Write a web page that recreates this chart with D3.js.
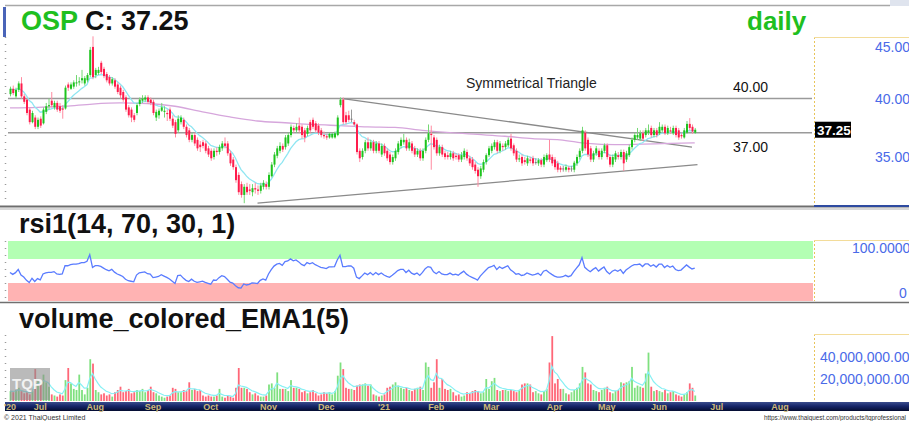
<!DOCTYPE html>
<html><head><meta charset="utf-8">
<script src="https://cdnjs.cloudflare.com/ajax/libs/d3/7.8.5/d3.min.js"></script>
<style>body{margin:0;background:#fff;overflow:hidden}svg{display:block;font-family:"Liberation Sans",Arial,sans-serif}</style>
</head><body><svg id="c" width="909" height="421"></svg>
<script>
// ---------- DATA (daily OSP, mid-Jun 2020 .. mid-Jun 2021) ----------
const opens = [
40.4,40.9,40.2,40.8,41.4,40.2,39.9,39.0,37.9,38.3,
37.5,38.2,37.8,38.8,39.3,39.8,39.2,39.6,39.3,39.1,
39.1,41.3,40.9,41.1,41.4,41.5,41.7,41.4,41.7,42.2,
45.0,42.2,42.4,43.4,42.8,42.3,42.0,41.4,41.7,41.3,
41.0,40.6,40.1,39.2,39.0,38.5,38.7,39.5,39.8,39.9,
40.1,39.9,39.7,38.3,38.5,38.9,38.8,38.7,39.0,38.2,
37.9,37.2,37.9,38.1,37.5,37.2,36.4,36.8,36.4,36.0,
36.2,36.1,35.7,35.5,35.0,35.5,35.4,35.7,36.1,36.1,
35.3,34.8,34.2,33.6,32.9,32.1,32.7,32.5,32.3,32.6,
32.5,32.4,32.7,32.9,32.7,33.5,34.4,35.1,35.5,35.9,
35.8,36.1,36.8,37.4,37.2,37.6,37.5,37.2,36.9,37.9,
38.1,37.8,37.6,37.2,36.8,36.7,36.6,36.6,36.6,36.8,
39.4,39.9,38.5,38.5,38.2,37.9,37.7,35.5,35.0,35.5,
36.2,35.7,36.2,35.5,36.1,35.2,35.9,35.5,35.2,34.6,
34.9,35.4,35.9,36.2,36.4,35.7,36.1,35.7,35.2,35.5,
34.9,35.5,36.4,36.9,36.6,36.4,35.3,35.8,35.3,35.15,
35.0,35.3,35.1,35.15,34.8,35.0,35.4,34.9,34.8,34.4,
34.0,33.5,34.0,34.6,35.15,35.5,35.8,36.2,35.5,35.9,
35.8,35.95,36.5,35.95,35.5,34.8,35.0,34.75,34.5,34.8,
34.9,34.6,34.5,34.75,34.4,34.75,35.2,35.0,34.8,34.5,
34.15,34.1,34.0,34.15,34.05,34.0,34.5,35.0,35.5,37.0,
36.4,35.7,34.8,35.3,35.5,35.0,35.5,35.95,35.0,34.4,
34.8,35.15,35.0,35.4,34.8,35.15,35.8,36.4,36.6,36.5,
36.95,36.8,37.0,37.4,36.8,37.2,36.95,37.2,37.5,36.95,
37.2,36.95,37.4,37.2,36.8,36.6,37.0,37.75,37.5,37.0];
const highs = [
41.1,41.2,41.0,41.6,42.0,40.4,40.0,39.2,38.9,38.5,
38.3,38.4,39.2,39.6,40.0,40.6,39.8,39.8,39.6,39.4,
41.2,41.5,41.5,41.7,42.2,42.0,42.7,42.1,42.4,45.0,
46.1,42.9,43.0,43.6,43.0,42.5,42.2,42.0,41.9,41.5,
41.2,40.8,40.3,39.4,39.2,38.7,39.6,40.1,40.3,40.3,
40.3,40.1,39.9,39.0,39.1,39.6,39.3,39.0,39.2,38.5,
38.1,38.5,38.5,38.3,37.7,37.4,37.0,37.0,36.6,36.3,
36.4,36.3,35.9,35.7,35.7,35.8,36.0,36.3,36.6,36.3,
35.5,35.0,34.4,33.8,33.1,32.9,33.0,32.9,32.9,33.0,
32.8,33.0,33.2,33.1,33.8,34.6,35.4,35.9,36.2,36.1,
36.8,37.0,37.7,37.6,37.8,38.3,37.7,37.4,37.6,38.1,
38.3,38.0,37.8,37.4,37.1,36.9,37.0,37.0,37.1,38.5,
40.1,40.1,38.8,38.9,39.0,38.1,37.8,35.7,35.7,36.4,
36.6,36.4,36.4,36.3,36.3,36.1,36.1,35.7,35.4,35.2,
35.7,36.3,36.6,36.9,36.6,36.5,36.3,35.9,35.7,35.7,
35.7,36.6,37.7,37.6,36.8,36.6,36.0,36.0,35.5,35.4,
35.5,35.5,35.3,35.3,35.4,35.7,35.6,35.1,35.0,34.6,
34.2,34.3,34.8,35.3,35.9,36.1,36.4,36.4,36.3,36.1,
36.3,36.6,36.9,36.1,35.7,35.2,35.2,35.0,35.1,35.0,
35.1,34.9,34.9,34.9,35.2,35.3,36.4,35.2,35.0,34.7,
34.3,34.3,34.4,34.3,34.3,34.7,35.2,35.7,37.5,37.2,
36.6,35.9,35.5,35.9,35.7,35.7,36.1,36.1,35.2,35.2,
35.5,35.4,35.6,35.6,35.5,36.0,36.6,37.0,37.4,37.2,
37.2,37.4,37.7,37.6,37.4,37.4,37.9,37.7,37.7,37.6,
37.5,37.6,37.6,37.4,37.0,37.4,38.0,38.25,37.7,37.4];
const lows = [
40.2,40.3,40.0,40.6,40.0,39.5,38.5,37.7,37.8,37.3,
37.3,37.4,37.7,38.6,39.0,39.2,39.0,38.8,38.7,38.2,
39.0,40.7,40.8,40.9,41.1,41.2,41.4,41.2,41.5,42.0,
41.8,41.9,42.2,42.3,41.9,41.5,41.2,41.2,40.9,40.4,
40.0,39.7,38.8,38.3,37.9,37.9,38.5,39.3,39.6,39.7,
39.5,39.4,38.5,38.0,38.2,38.8,38.3,38.0,38.0,37.4,
36.6,37.0,37.7,37.3,36.6,36.2,36.2,35.9,35.5,35.4,
35.7,35.3,35.0,34.7,34.8,35.1,35.2,35.5,35.7,35.1,
34.3,34.0,33.0,32.1,31.9,31.5,32.1,32.1,32.0,32.2,
32.1,32.2,32.5,32.5,32.5,33.4,34.2,34.9,35.3,35.4,
35.6,35.9,36.6,37.0,37.0,37.0,36.5,36.2,36.7,37.0,
37.3,37.0,36.8,36.6,36.5,36.4,36.5,36.5,36.5,36.7,
39.2,37.7,37.7,37.9,37.9,37.5,35.2,34.6,34.8,35.3,
35.5,35.5,35.3,35.3,35.3,35.0,35.1,34.7,34.4,34.4,
34.7,35.2,35.7,36.0,35.5,35.5,35.3,35.0,35.0,34.7,
34.7,35.3,36.2,34.0,35.6,35.1,35.1,35.0,34.8,34.8,
34.8,34.7,34.8,34.6,34.6,34.8,34.7,34.3,34.0,33.7,
32.7,33.3,33.8,34.4,35.0,35.3,35.6,35.3,35.3,35.5,
35.6,35.8,35.5,35.1,34.6,34.6,34.3,34.4,34.3,34.5,
34.3,34.4,34.3,34.2,34.2,34.6,34.6,34.3,34.0,33.8,
33.8,33.85,33.85,33.8,33.85,33.8,34.3,34.8,35.3,35.5,
35.0,34.6,34.6,35.1,34.8,34.8,35.3,34.8,34.2,34.2,
34.6,34.8,34.8,33.9,34.6,35.0,35.6,36.2,36.4,36.3,
36.3,36.6,36.8,36.6,36.6,36.6,36.8,37.0,36.8,36.8,
36.9,36.8,36.6,36.4,36.5,36.5,36.9,37.2,36.9,36.9];
const closes = [
40.9,40.5,40.8,41.4,40.2,39.7,38.7,37.9,38.7,37.5,
38.1,37.6,39.0,39.3,39.4,39.4,39.6,39.0,38.9,39.0,
41.0,41.0,41.3,41.5,41.5,41.6,41.9,41.9,42.2,44.7,
42.0,42.7,42.7,42.5,42.1,41.7,41.4,41.8,41.1,40.6,
40.3,39.9,39.0,38.5,38.3,38.1,39.4,39.9,40.0,40.1,
39.7,39.6,38.7,38.8,38.9,39.2,38.9,38.6,38.2,37.6,
36.9,38.2,38.3,37.5,36.8,36.4,36.8,36.1,35.7,35.8,
35.9,35.5,35.2,34.9,35.5,35.4,35.8,36.1,35.9,35.3,
34.5,34.2,33.2,32.3,32.1,32.7,32.3,32.4,32.6,32.5,
32.4,32.8,33.0,32.7,33.6,34.4,35.2,35.7,35.9,35.6,
36.6,36.8,37.5,37.2,37.5,37.2,36.8,36.6,37.4,37.2,
37.5,37.2,37.0,36.8,36.7,36.6,36.9,36.9,36.95,38.3,
39.9,37.9,37.9,38.1,38.15,37.7,35.4,34.9,35.5,36.2,
35.7,36.2,35.5,36.1,35.5,35.9,35.3,34.9,34.6,35.0,
35.5,36.1,36.4,36.4,35.7,36.2,35.5,35.2,35.5,34.9,
35.5,36.4,36.95,36.8,35.8,35.3,35.8,35.2,35.0,35.0,
35.3,34.9,35.0,34.8,35.15,35.5,34.9,34.5,34.2,33.9,
33.5,34.1,34.6,35.15,35.7,35.9,36.2,35.5,36.1,35.8,
36.1,36.4,35.7,35.3,34.8,34.9,34.5,34.6,34.9,34.7,
34.5,34.6,34.75,34.4,35.0,35.15,34.8,34.5,34.2,34.0,
34.0,34.05,34.2,34.0,34.1,34.55,35.0,35.5,37.2,35.7,
35.2,34.8,35.3,35.7,35.0,35.5,35.95,35.0,34.4,35.0,
35.3,35.0,35.4,34.5,35.3,35.8,36.4,36.8,36.8,36.95,
36.5,37.2,37.2,36.8,37.2,36.8,37.5,37.5,36.95,37.4,
37.1,37.4,36.8,36.6,36.7,37.2,37.75,37.4,37.1,37.25];
// volume, millions of shares
const volumes = [
9,8,10,12,9,7,8,6,9,29, 18,15,24,17,13,6,5,4,6,5,
19,30,16,11,10,24,10,6,12,38, 34,10,8,6,7,5,6,4,8,10,
13,8,9,11,7,8,10,9,11,8, 10,13,8,7,5,4,3,4,5,12,
11,8,8,10,9,17,10,11,9,10, 5,4,5,4,4,5,11,4,3,5,
4,3,12,30,12,12,11,8,6,7, 5,4,4,5,15,16,12,26,11,11,
11,9,19,12,12,11,8,9,7,8, 10,7,5,6,8,7,8,6,9,23,
35,29,12,11,11,10,14,15,15,16, 14,15,6,5,4,5,6,12,13,15,
17,14,12,11,12,10,9,11,12,13, 10,35,31,12,17,38,12,20,11,10,
11,8,5,6,4,5,8,7,9,10, 9,7,8,20,11,18,21,10,9,10,
10,9,10,9,8,10,15,16,16,15, 8,9,7,6,9,11,35,59,16,20,
11,11,7,6,8,10,12,16,31,26, 16,15,10,9,8,10,12,13,8,7,
9,10,17,16,17,18,31,12,14,13, 12,25,44,13,9,10,9,8,10,7,
8,9,6,5,4,6,8,16,12,5];
// slow moving average (purple), sampled at bar index
const slowMaIdx = [0,10,20,30,40,50,60,70,80,90,100,110,120,130,140,150,160,170,180,190,200,210,220,230,240,249];
const slowMaVal = [39.15,39.2,39.3,39.5,39.6,39.55,39.3,38.8,38.35,38.0,37.85,37.7,37.6,37.5,37.45,37.2,37.0,36.85,36.7,36.5,36.4,36.1,36.0,36.05,36.1,36.15];
// trend lines: [barIndex, price]
const upperTrend = [[121,40.0],[248,35.8]];
const lowerTrend = [[90,31.5],[250,34.4]];
const hLevels = [40.0, 37.0];
const hLevelLabels = ["40.00","37.00"];
// x-axis month labels and their first bar index
const monthLabels = ["'20","Jul","Aug","Sep","Oct","Nov","Dec","'21","Feb","Mar","Apr","May","Jun","Jul","Aug"];
const monthIdx    = [0,11,31,52,73,94,115,136,155,175,198,217,236,257,280];
const priceTicks = [45,40,35];
const volTicks = [40,20];
const rsiSeed = {gain:0.20, loss:0.22};
const lastClose = 37.25;

// ---------- SCALES ----------
const svg = d3.select("#c");
const N = closes.length;
const x = d3.scaleLinear().domain([0,280]).range([10,780]);
const yP = d3.scaleLog().domain([31.37,46.03]).range([205,37]);
const yR = d3.scaleLinear().domain([0,100]).range([301,241]);
const yV = d3.scaleLinear().domain([0,60]).range([401,335]);

const defs = svg.append("defs");
function clip(id,x0,y0,w,h){defs.append("clipPath").attr("id",id).append("rect").attr("x",x0).attr("y",y0).attr("width",w).attr("height",h);}
clip("cP",6,6,807,200); clip("cR",6,240,807,62); clip("cV",6,304,807,97);
const grad = defs.append("linearGradient").attr("id","nav").attr("x1",0).attr("y1",0).attr("x2",0).attr("y2",1);
grad.append("stop").attr("offset","0%").attr("stop-color","#3a4c8c");
grad.append("stop").attr("offset","45%").attr("stop-color","#16266a");
grad.append("stop").attr("offset","100%").attr("stop-color","#040c30");

// ---------- FRAME ----------
svg.append("rect").attr("x",890).attr("y",0).attr("width",19).attr("height",6).attr("fill","#dfe4ee");
svg.append("line").attr("x1",5).attr("x2",890).attr("y1",5.5).attr("y2",5.5).attr("stroke","#a8a8a8").attr("stroke-width",1.5);
svg.append("rect").attr("x",3).attr("y",7).attr("width",3).attr("height",30).attr("fill","#4a64b8");
[[37,205],[241,300],[335,400]].forEach(([a,b])=>{
  svg.append("line").attr("x1",5.5).attr("x2",5.5).attr("y1",a).attr("y2",b).attr("stroke","#9a9a9a").attr("stroke-width",1.5).attr("stroke-dasharray","1,6");
});
svg.append("line").attr("x1",0).attr("x2",909).attr("y1",206.5).attr("y2",206.5).attr("stroke","#6e6e6e").attr("stroke-width",2);
svg.append("line").attr("x1",814).attr("x2",909).attr("y1",206).attr("y2",206).attr("stroke","#2e4aa0").attr("stroke-width",2);
svg.append("line").attr("x1",0).attr("x2",909).attr("y1",209).attr("y2",209).attr("stroke","#b0b0b0").attr("stroke-width",1);
svg.append("line").attr("x1",0).attr("x2",909).attr("y1",302.5).attr("y2",302.5).attr("stroke","#707070").attr("stroke-width",1.5);

// right axis boxes
function axisBox(y0,y1){
  svg.append("line").attr("x1",814.5).attr("x2",814.5).attr("y1",y0).attr("y2",y1).attr("stroke","#e8c45a").attr("stroke-dasharray","2,2");
  svg.append("line").attr("x1",814).attr("x2",909).attr("y1",y0+0.5).attr("y2",y0+0.5).attr("stroke","#f3dc9a");
}
axisBox(37,205); axisBox(240,301); axisBox(334,401);

// ---------- TITLES ----------
const t1 = svg.append("text").attr("x",21).attr("y",30).attr("font-size",27).attr("font-weight","bold");
t1.append("tspan").attr("fill","#1fbf1f").text("OSP");
t1.append("tspan").attr("fill","#111").text(" C: "+lastClose.toFixed(2));
svg.append("text").attr("x",747).attr("y",29.5).attr("font-size",26).attr("font-weight","bold").attr("fill","#1fbf1f").text("daily");
svg.append("text").attr("x",19).attr("y",233).attr("font-size",27).attr("font-weight","bold").attr("fill","#111").text("rsi1(14, 70, 30, 1)");
svg.append("text").attr("x",19).attr("y",328).attr("font-size",27).attr("font-weight","bold").attr("fill","#111").text("volume_colored_EMA1(5)");

// ---------- PRICE PANEL ----------
const gP = svg.append("g").attr("clip-path","url(#cP)");
hLevels.forEach((v,k)=>{
  gP.append("line").attr("x1",8).attr("x2",812).attr("y1",yP(v)).attr("y2",yP(v)).attr("stroke","#9a9a9a").attr("stroke-width",1.5);
  svg.append("text").attr("x",733).attr("y", k===0 ? yP(v)-6.5 : yP(v)+19.5).attr("font-size",14).attr("fill","#111").text(hLevelLabels[k]);
});
svg.append("text").attr("x",466).attr("y",88).attr("font-size",14).attr("fill","#222").text("Symmetrical Triangle");
[upperTrend,lowerTrend].forEach(tl=>{
  gP.append("line").attr("x1",x(tl[0][0])).attr("y1",yP(tl[0][1])).attr("x2",x(tl[1][0])).attr("y2",yP(tl[1][1])).attr("stroke","#8a8a8a").attr("stroke-width",1.3);
});
// slow MA
gP.append("path").datum(slowMaIdx.map((d,k)=>[d,slowMaVal[k]]))
  .attr("d",d3.line().x(d=>x(d[0])).y(d=>yP(d[1])).curve(d3.curveMonotoneX))
  .attr("fill","none").attr("stroke","#d6a6dc").attr("stroke-width",1.3);
// fast EMA(10)
const ema = []; closes.forEach((c,i)=>{ ema.push(i===0?c: ema[i-1]+(2/11)*(c-ema[i-1])); });
gP.append("path").datum(ema).attr("d",d3.line().x((d,i)=>x(i)).y(d=>yP(d)))
  .attr("fill","none").attr("stroke","#8fe6f2").attr("stroke-width",1.3);
// candles
const idx = d3.range(N);
const dir = i => Math.abs(closes[i]-opens[i])<0.06 ? 0 : (closes[i]>opens[i]?1:-1);
const bodyCol = i => ({"1":"#1ec41e","-1":"#ff1c4c","0":"#7a7a7a"})[dir(i)];
const wickCol = i => ({"1":"#74d874","-1":"#ff8aa0","0":"#9a9a9a"})[dir(i)];
gP.selectAll(".wk").data(idx).join("line").attr("class","wk")
  .attr("x1",i=>x(i)+0.5).attr("x2",i=>x(i)+0.5).attr("y1",i=>yP(highs[i])).attr("y2",i=>yP(lows[i]))
  .attr("stroke",wickCol).attr("stroke-width",1);
gP.selectAll(".bd").data(idx).join("rect").attr("class","bd")
  .attr("x",i=>x(i)-0.5).attr("width",2)
  .attr("y",i=>yP(Math.max(opens[i],closes[i])))
  .attr("height",i=>Math.max(1,Math.abs(yP(opens[i])-yP(closes[i]))))
  .attr("fill",bodyCol);
// right price axis
priceTicks.forEach(v=>{
  svg.append("text").attr("x",875).attr("y",yP(v)+5).attr("font-size",14).attr("fill","#4a6ae8").text(v.toFixed(2));
});
svg.append("rect").attr("x",815).attr("y",yP(lastClose)-8).attr("width",36).attr("height",16).attr("fill","#000");
svg.append("text").attr("x",817).attr("y",yP(lastClose)+5).attr("font-size",13.5).attr("font-weight","bold").attr("fill","#fff").text(lastClose.toFixed(2));

// ---------- RSI PANEL ----------
const gR = svg.append("g").attr("clip-path","url(#cR)");
gR.append("rect").attr("x",8).attr("width",806).attr("y",yR(100)).attr("height",yR(70)-yR(100)).attr("fill","#b3ffb3");
gR.append("rect").attr("x",8).attr("width",806).attr("y",yR(30)).attr("height",yR(0)-yR(30)).attr("fill","#ffb3b3");
let ag=rsiSeed.gain, al=rsiSeed.loss; const rsi=[];
closes.forEach((c,i)=>{
  if(i>0){const ch=c-closes[i-1]; ag=(ag*13+Math.max(ch,0))/14; al=(al*13+Math.max(-ch,0))/14;}
  rsi.push(100-100/(1+ag/al));
});
gR.append("path").datum(rsi).attr("d",d3.line().x((d,i)=>x(i)).y(d=>yR(d)))
  .attr("fill","none").attr("stroke","#5a7cff").attr("stroke-width",1.3);
svg.append("text").attr("x",852).attr("y",253).attr("font-size",14).attr("fill","#4a6ae8").text("100.0000");
svg.append("text").attr("x",899).attr("y",298).attr("font-size",14).attr("fill","#4a6ae8").text("0");

// ---------- VOLUME PANEL ----------
const gV = svg.append("g").attr("clip-path","url(#cV)");
const vCol = i => dir(i)>=0 ? (dir(i)===0?"#8fe08f":"#7fe07f") : "#ff6677";
gV.selectAll(".vb").data(idx).join("rect").attr("class","vb")
  .attr("x",i=>x(i)-0.4).attr("width",1.8)
  .attr("y",i=>yV(volumes[i])).attr("height",i=>yV(0)-yV(volumes[i]))
  .attr("fill",vCol);
const vema=[]; volumes.forEach((v,i)=>{ vema.push(i===0?v: vema[i-1]+(2/6)*(v-vema[i-1])); });
gV.append("path").datum(vema).attr("d",d3.line().x((d,i)=>x(i)).y(d=>yV(d)))
  .attr("fill","none").attr("stroke","#86f0f4").attr("stroke-width",1.2);
volTicks.forEach(v=>{
  svg.append("text").attr("x",820).attr("y",yV(v)+5).attr("font-size",14).attr("fill","#4a6ae8").text(d3.format(",")(v*1e6)+".00");
});
// watermark
svg.append("rect").attr("x",10).attr("y",368).attr("width",40).attr("height",32).attr("fill","#8c8c8c").attr("opacity",0.6);
svg.append("text").attr("x",12).attr("y",389).attr("font-size",15).attr("font-weight","bold").attr("fill","#f2f2f2").text("TQP");

// ---------- DATE AXIS ----------
svg.append("rect").attr("x",5).attr("y",402).attr("width",904).attr("height",9).attr("fill","url(#nav)");
monthLabels.forEach((m,k)=>{
  svg.append("text").attr("x",x(monthIdx[k])).attr("y",410).attr("text-anchor","middle")
    .attr("font-size",9).attr("font-weight","bold").attr("fill","#cdb878").text(m);
});
svg.append("text").attr("x",4).attr("y",419.5).attr("font-size",7).attr("fill","#333").text("© 2021 ThaiQuest Limited");
svg.append("text").attr("x",906).attr("y",419.5).attr("text-anchor","end").attr("font-size",6.4).attr("fill","#333").text("https://www.thaiquest.com/products/tqprofessional");
</script></body></html>
